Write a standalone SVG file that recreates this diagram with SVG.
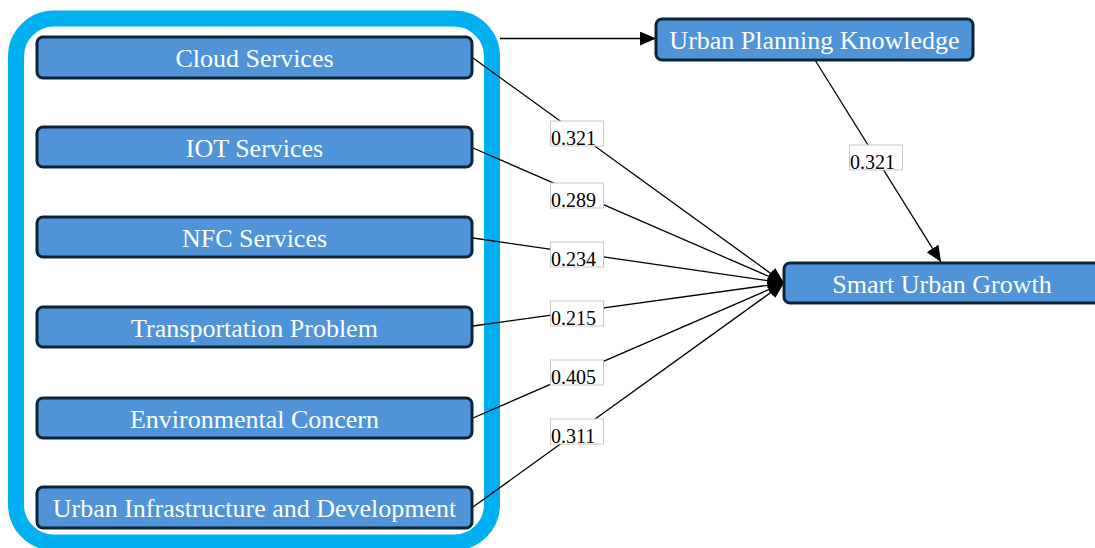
<svg xmlns="http://www.w3.org/2000/svg" width="1095" height="548" viewBox="0 0 1095 548">
<defs>
<marker id="arr" viewBox="0 0 16 14" markerWidth="16" markerHeight="14" refX="16" refY="7" orient="auto" markerUnits="userSpaceOnUse">
<path d="M0,0 L16,7 L0,14 z" fill="#000"/>
</marker>
<style>
.node rect{fill:#4f94d8;stroke:#0b2536;stroke-width:3}
.node text{fill:#fff;font-family:"Liberation Serif",serif;font-size:26px;text-anchor:middle}
.edge{stroke:#000;stroke-width:1.3;fill:none;marker-end:url(#arr)}
.lbl rect{fill:#fff;stroke:#c8c8c8;stroke-width:1}
.lbl text{fill:#000;font-family:"Liberation Serif",serif;font-size:20px}
</style>
</defs>
<rect width="1095" height="548" fill="#fff"/>
<g id="container">
<rect x="16" y="18.5" width="476" height="524" rx="38" fill="none" stroke="#00b0f0" stroke-width="16"/>
</g>
<g id="connectors">
<line class="edge" x1="500" y1="38.5" x2="656" y2="38.5"/>
<line class="edge" x1="815" y1="60" x2="941" y2="262"/>
<line class="edge" x1="473" y1="58" x2="784" y2="283"/>
<line class="edge" x1="473" y1="148" x2="784" y2="283"/>
<line class="edge" x1="473" y1="238" x2="784" y2="283"/>
<line class="edge" x1="473" y1="326" x2="784" y2="283"/>
<line class="edge" x1="473" y1="418" x2="784" y2="283"/>
<line class="edge" x1="473" y1="507" x2="784" y2="283"/>
<g class="lbl"><rect x="550.5" y="121" width="53" height="25"/><text x="551" y="145">0.321</text></g>
<g class="lbl"><rect x="550.5" y="183" width="53" height="25"/><text x="551" y="207">0.289</text></g>
<g class="lbl"><rect x="550.5" y="242" width="53" height="25"/><text x="551" y="266">0.234</text></g>
<g class="lbl"><rect x="550.5" y="301" width="53" height="25"/><text x="551" y="325">0.215</text></g>
<g class="lbl"><rect x="550.5" y="360" width="53" height="25"/><text x="551" y="384">0.405</text></g>
<g class="lbl"><rect x="550.5" y="419" width="53" height="25"/><text x="551" y="443">0.311</text></g>
<g class="lbl"><rect x="849.5" y="145" width="53" height="25"/><text x="850" y="169">0.321</text></g>
</g>
<g id="cloud-services" class="node"><rect x="37" y="37" width="435" height="41" rx="6"/><text x="254.5" y="67">Cloud Services</text></g>
<g id="iot-services" class="node"><rect x="37" y="127" width="435" height="40" rx="6"/><text x="254.5" y="157">IOT Services</text></g>
<g id="nfc-services" class="node"><rect x="37" y="217" width="435" height="40" rx="6"/><text x="254.5" y="247">NFC Services</text></g>
<g id="transportation-problem" class="node"><rect x="37" y="307" width="435" height="40" rx="6"/><text x="254.5" y="337">Transportation Problem</text></g>
<g id="environmental-concern" class="node"><rect x="37" y="398" width="435" height="40" rx="6"/><text x="254.5" y="428">Environmental Concern</text></g>
<g id="urban-infrastructure" class="node"><rect x="37" y="487" width="435" height="41" rx="6"/><text x="254.5" y="517">Urban Infrastructure and Development</text></g>
<g id="urban-planning-knowledge" class="node"><rect x="656" y="19" width="317" height="41" rx="6"/><text x="814.5" y="49">Urban Planning Knowledge</text></g>
<g id="smart-urban-growth" class="node"><rect x="784" y="263" width="320" height="40" rx="6"/><text x="942" y="293">Smart Urban Growth</text></g>
</svg>
